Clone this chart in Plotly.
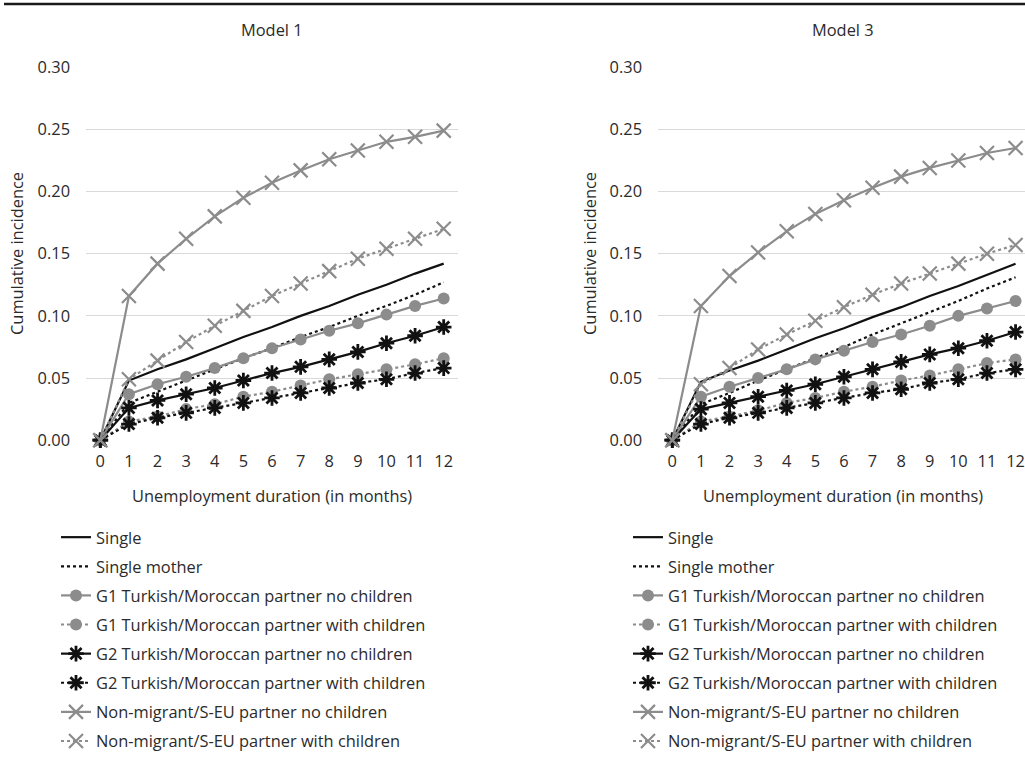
import plotly.graph_objects as go

months = list(range(13))
series_names = [
    "Single",
    "Single mother",
    "G1 Turkish/Moroccan partner no children",
    "G1 Turkish/Moroccan partner with children",
    "G2 Turkish/Moroccan partner no children",
    "G2 Turkish/Moroccan partner with children",
    "Non-migrant/S-EU partner no children",
    "Non-migrant/S-EU partner with children",
]

# Model 1
m1_single = [0, 0.048, 0.057, 0.065, 0.074, 0.083, 0.091, 0.100, 0.108, 0.117, 0.125, 0.134, 0.142]
m1_single_mother = [0, 0.030, 0.039, 0.048, 0.057, 0.066, 0.074, 0.083, 0.091, 0.100, 0.108, 0.117, 0.127]
m1_g1_no = [0, 0.037, 0.045, 0.051, 0.058, 0.066, 0.074, 0.081, 0.088, 0.094, 0.101, 0.108, 0.114]
m1_g1_with = [0, 0.015, 0.019, 0.025, 0.029, 0.035, 0.039, 0.044, 0.049, 0.053, 0.057, 0.061, 0.066]
m1_g2_no = [0, 0.026, 0.032, 0.037, 0.042, 0.048, 0.054, 0.059, 0.065, 0.071, 0.078, 0.084, 0.091]
m1_g2_with = [0, 0.013, 0.018, 0.022, 0.026, 0.030, 0.034, 0.038, 0.042, 0.046, 0.049, 0.054, 0.058]
m1_nm_no = [0, 0.116, 0.142, 0.162, 0.180, 0.195, 0.207, 0.217, 0.226, 0.233, 0.240, 0.244, 0.249]
m1_nm_with = [0, 0.049, 0.064, 0.079, 0.092, 0.104, 0.116, 0.126, 0.136, 0.146, 0.154, 0.162, 0.170]

# Model 3
m3_single = [0, 0.047, 0.056, 0.064, 0.073, 0.082, 0.090, 0.099, 0.107, 0.116, 0.124, 0.133, 0.142]
m3_single_mother = [0, 0.029, 0.038, 0.048, 0.057, 0.066, 0.075, 0.085, 0.094, 0.103, 0.112, 0.122, 0.131]
m3_g1_no = [0, 0.035, 0.043, 0.050, 0.057, 0.065, 0.072, 0.079, 0.085, 0.092, 0.100, 0.106, 0.112]
m3_g1_with = [0, 0.015, 0.019, 0.024, 0.030, 0.034, 0.039, 0.043, 0.048, 0.052, 0.057, 0.062, 0.065]
m3_g2_no = [0, 0.025, 0.030, 0.035, 0.040, 0.045, 0.051, 0.057, 0.063, 0.069, 0.074, 0.080, 0.087]
m3_g2_with = [0, 0.013, 0.018, 0.022, 0.026, 0.030, 0.034, 0.038, 0.041, 0.046, 0.049, 0.054, 0.057]
m3_nm_no = [0, 0.108, 0.132, 0.151, 0.168, 0.182, 0.193, 0.203, 0.212, 0.219, 0.225, 0.231, 0.235]
m3_nm_with = [0, 0.045, 0.058, 0.073, 0.085, 0.096, 0.107, 0.117, 0.126, 0.134, 0.142, 0.150, 0.157]

y_ticks = [0.00, 0.05, 0.10, 0.15, 0.20, 0.25, 0.30]
y_tick_labels = ["0.00", "0.05", "0.10", "0.15", "0.20", "0.25", "0.30"]

BLACK = "#111111"
GRAY = "#8c8c8c"
FONT = "Open Sans"
FS = 16.4
TXT = "#2b2b2b"

styles = [
    dict(color=BLACK, dash="solid", symbol=None),
    dict(color=BLACK, dash="dot", symbol=None),
    dict(color=GRAY, dash="solid", symbol="circle"),
    dict(color=GRAY, dash="dot", symbol="circle"),
    dict(color=BLACK, dash="solid", symbol="asterisk-open"),
    dict(color=BLACK, dash="dot", symbol="asterisk-open"),
    dict(color=GRAY, dash="solid", symbol="x-thin-open"),
    dict(color=GRAY, dash="dot", symbol="x-thin-open"),
]

model1 = [m1_single, m1_single_mother, m1_g1_no, m1_g1_with, m1_g2_no, m1_g2_with, m1_nm_no, m1_nm_with]
model3 = [m3_single, m3_single_mother, m3_g1_no, m3_g1_with, m3_g2_no, m3_g2_with, m3_nm_no, m3_nm_with]

fig = go.Figure()

def add_panel(data, xa, ya, legend):
    for i, (name, vals, st) in enumerate(zip(series_names, data, styles)):
        mode = "lines" if st["symbol"] is None else "lines+markers"
        marker = None
        if st["symbol"] == "circle":
            marker = dict(symbol="circle", size=12, color=st["color"], line=dict(width=0))
        elif st["symbol"] == "asterisk-open":
            marker = dict(symbol="asterisk-open", size=13, color=st["color"], line=dict(width=2.8, color=st["color"]))
        elif st["symbol"] == "x-thin-open":
            marker = dict(symbol="x-thin-open", size=14, color=st["color"], line=dict(width=2.2, color=st["color"]))
        fig.add_trace(go.Scatter(
            x=months, y=vals, name=name, mode=mode,
            line=dict(color=st["color"], width=2.2, dash=st["dash"]),
            marker=marker,
            xaxis=xa, yaxis=ya, legend=legend, legendgroup=legend + str(i),
            cliponaxis=False, showlegend=True,
        ))

add_panel(model1, "x", "y", "legend")
add_panel(model3, "x2", "y2", "legend2")

W, H = 1025, 765
def px_x(p):
    return p / W
def px_y(p):
    return 1 - p / H

axis_common = dict(
    showline=False, ticks="", zeroline=False,
    tickfont=dict(family=FONT, size=FS, color=TXT),
)

legend_common = dict(
    xanchor="left", yanchor="top",
    font=dict(family=FONT, size=FS, color=TXT), tracegroupgap=4.8,
    bgcolor="rgba(0,0,0,0)",
)

fig.update_layout(
    width=W, height=H,
    margin=dict(l=0, r=0, t=0, b=0, autoexpand=False),
    paper_bgcolor="white", plot_bgcolor="white",
    font=dict(family=FONT, size=FS, color=TXT),
    xaxis=dict(domain=[px_x(86), px_x(458)], range=[-0.5, 12.5], tickmode="array",
               tickvals=months, ticktext=[str(m) for m in months], showgrid=False,
               anchor="y", ticklabelstandoff=9, **axis_common),
    yaxis=dict(domain=[px_y(440.7), px_y(66.7)], range=[-0.0004, 0.3004], tickmode="array",
               tickvals=y_ticks, ticktext=y_tick_labels, showgrid=True, gridcolor="#d9d9d9",
               gridwidth=1.3, anchor="x", ticklabelstandoff=15, **axis_common),
    xaxis2=dict(domain=[px_x(658), 1.0], range=[-0.5, 12.33], tickmode="array",
                tickvals=months, ticktext=[str(m) for m in months], showgrid=False,
                anchor="y2", ticklabelstandoff=9, **axis_common),
    yaxis2=dict(domain=[px_y(440.7), px_y(66.7)], range=[-0.0004, 0.3004], tickmode="array",
                tickvals=y_ticks, ticktext=y_tick_labels, showgrid=True, gridcolor="#d9d9d9",
                gridwidth=1.3, anchor="x2", ticklabelstandoff=15, **axis_common),
    legend=dict(x=px_x(56), y=px_y(520), **legend_common),
    legend2=dict(x=px_x(628), y=px_y(520), **legend_common),
    shapes=[dict(type="line", xref="paper", yref="paper", x0=px_x(4), x1=1.0,
                 y0=px_y(4), y1=px_y(4), line=dict(color="#1a1a1a", width=2.5))],
)

annotations = [
    dict(text="Model 1", x=px_x(272), y=px_y(30)),
    dict(text="Model 3", x=px_x(843), y=px_y(30)),
    dict(text="Unemployment duration (in months)", x=px_x(272), y=px_y(495)),
    dict(text="Unemployment duration (in months)", x=px_x(843), y=px_y(495)),
    dict(text="Cumulative incidence", x=px_x(17), y=px_y(254), textangle=-90),
    dict(text="Cumulative incidence", x=px_x(590), y=px_y(254), textangle=-90),
]
for a in annotations:
    fig.add_annotation(xref="paper", yref="paper", showarrow=False,
                       xanchor="center", yanchor="middle",
                       font=dict(family=FONT, size=FS, color=TXT), **a)

fig.write_html("out.html", config={"displayModeBar": False},
               post_script="document.body.style.margin='0px';document.body.style.overflow='hidden';")
